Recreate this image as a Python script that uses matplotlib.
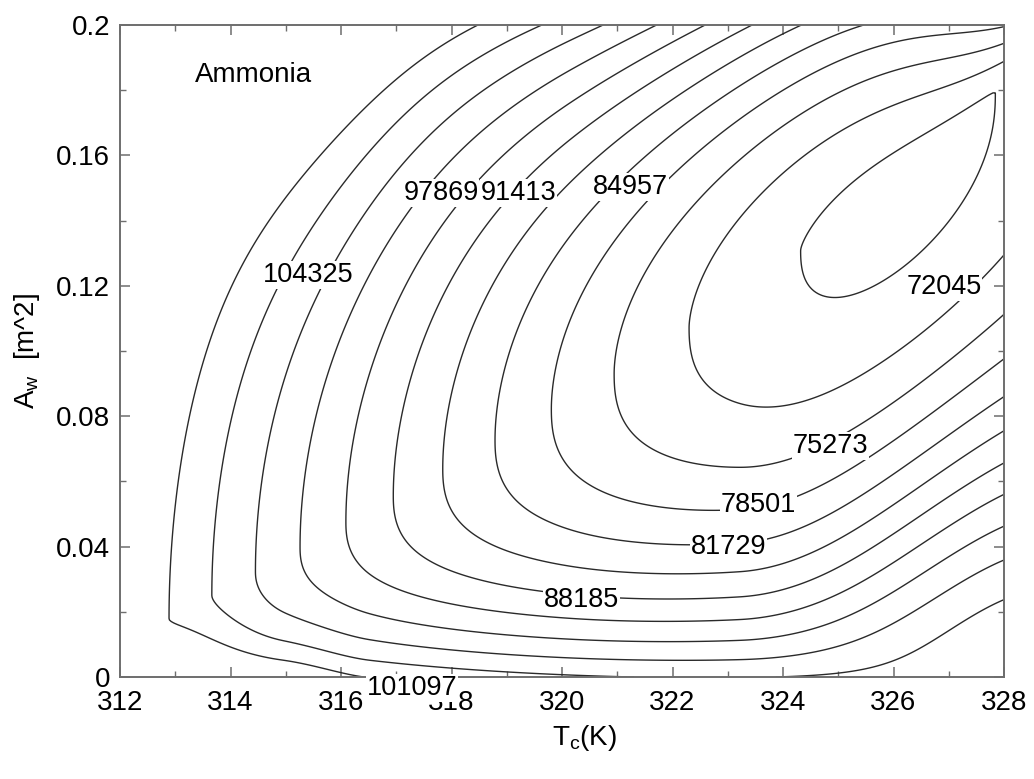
import numpy as np
import matplotlib
matplotlib.use("Agg")
import matplotlib.pyplot as plt
from matplotlib.ticker import MultipleLocator, FuncFormatter

plt.rcParams["font.family"] = ["Liberation Sans", "DejaVu Sans"]

# contour levels of the total cost
levels = [68817, 72045, 75273, 78501, 81729, 84957, 88185,
          91413, 94641, 97869, 101097, 104325]

# values written on the plot and where they sit (T_c [K], A_w [m^2])
label_values = [104325, 91413, 97869, 84957, 72045, 75273, 78501, 81729, 88185, 101097]
label_T = [315.40, 319.21, 317.81, 321.24, 326.91, 324.86, 323.56, 323.01, 320.35, 317.29]
label_A = [0.1233, 0.1485, 0.1485, 0.1503, 0.1196, 0.0709, 0.0528, 0.0399, 0.0236, -0.0034]

T_min, T_max = 312.0, 328.0
A_min, A_max = 0.0, 0.2

cost_base = 68817.0
cost_step = 3228.0


def smoothstep(x):
    x = np.clip(x, 0.0, 1.0)
    return x * x * (3.0 - 2.0 * x)


def cost_surface(T, A):
    # scaled coordinates, same length unit on both axes
    X = (T - T_min) / (T_max - T_min) * 884.0
    Y = (A - A_min) / (A_max - A_min) * 652.0

    # valley of optimum area for each temperature
    Yv = 61.0 + 0.55 * (X - 55.0) + 4.0e-4 * np.clip(X - 450.0, 0.0, None) ** 2
    t = Y - Yv

    # cost along the valley
    d = 780.0 - X
    G = np.where(X < 780.0,
                 -0.3 + 0.02767 * (np.sqrt(d ** 2 + 450.0 ** 2) - 450.0),
                 -0.3 + 3.3e-5 * d ** 2)

    # oversized area (above the valley)
    tp = np.clip(t, 0.0, None)
    a = 0.051 * np.exp((X - 884.0) / 75.0)
    b = np.exp(-9.2 - 5.01e-5 * np.clip(850.0 - X, 0.0, None) ** 1.6
               + 0.15 * np.exp(-((X - 165.0) / 120.0) ** 2))
    upper = G + a * tp ** 2 / (tp + 8.0) + b * tp ** 2

    # undersized area (below the valley), rising to the A_w = 0 edge
    tau = np.clip(-t / Yv, 0.0, 1.0)
    edge = (9.95 + np.where(X < 590.0, 8.7e-6, 1.157e-5) * (X - 590.0) ** 2
            + 0.55 * smoothstep((250.0 - X) / 90.0))
    p = 1.3 + 1.0 * smoothstep((X - 55.0) / 110.0)
    s_mid = tau ** p
    s_right = 1.0 - (1.0 - tau ** 2.5) ** 2
    w = smoothstep((X - 620.0) / 264.0)
    s = (1.0 - w) * s_mid + w * s_right
    lower = G + (edge - G) * s

    n = np.where(t >= 0.0, upper, lower)
    return cost_base + cost_step * n


T = np.linspace(T_min, T_max, 401)
A = np.linspace(A_min, A_max, 401)
TT, AA = np.meshgrid(T, A)
cost = cost_surface(TT, AA)

fig = plt.figure(figsize=(10.34, 7.79), dpi=100)
ax = fig.add_axes([120 / 1034, 1 - 677 / 779, 884 / 1034, 652 / 779])

ax.contour(TT, AA, cost, levels=levels, colors="#2a2a2a", linewidths=1.0)

for val, tx, ay in zip(label_values, label_T, label_A):
    ax.text(tx, ay, f"{val}", ha="center", va="center", fontsize=19.5,
            color="black", zorder=6, clip_on=False,
            bbox=dict(facecolor="white", edgecolor="none", pad=0.5))

ax.text(313.36, 0.1847, "Ammonia", ha="left", va="center", fontsize=20)

ax.set_xlim(T_min, T_max)
ax.set_ylim(A_min, A_max)
ax.xaxis.set_major_locator(MultipleLocator(2))
ax.xaxis.set_minor_locator(MultipleLocator(1))
ax.yaxis.set_major_locator(MultipleLocator(0.04))
ax.yaxis.set_minor_locator(MultipleLocator(0.02))
ax.yaxis.set_major_formatter(FuncFormatter(lambda v, p: f"{v:g}"))
ax.xaxis.set_major_formatter(FuncFormatter(lambda v, p: f"{v:g}"))

ax.tick_params(which="both", direction="in", top=True, right=True,
               colors="#6e6e6e", labelcolor="black", labelsize=20)
ax.tick_params(which="major", length=7, width=1.1)
ax.tick_params(which="minor", length=4, width=1.0)
ax.tick_params(axis="x", pad=9)
ax.tick_params(axis="y", pad=7)
for sp in ax.spines.values():
    sp.set_color("#6e6e6e")
    sp.set_linewidth(1.4)

ax.set_xlabel(r"T$_\mathregular{c}$(K)", fontsize=20, va="center")
ax.set_ylabel(r"A$_\mathregular{w}$  [m^2]", fontsize=20, va="center")
ax.xaxis.set_label_coords(0.526, -0.0936)
ax.yaxis.set_label_coords(-0.105, 0.5)

fig.savefig("out.png", dpi=100)
